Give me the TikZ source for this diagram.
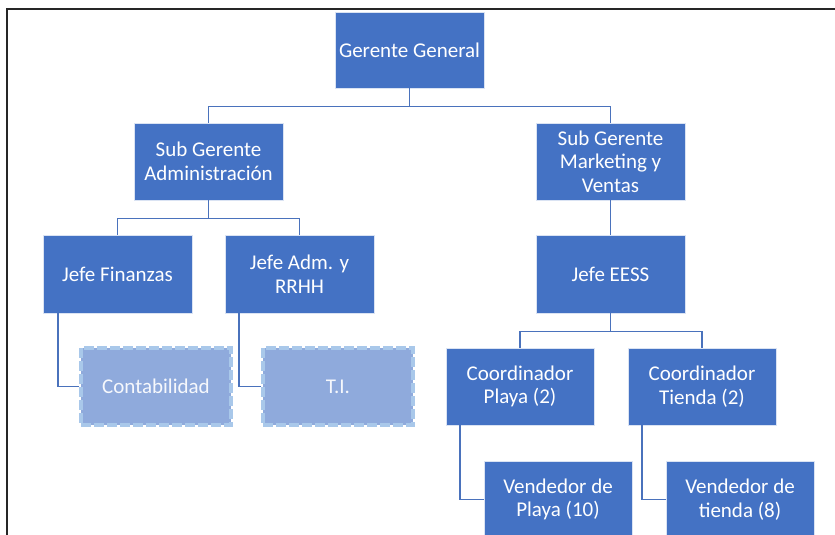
\documentclass[tikz,border=0pt]{standalone}
\usepackage{fontspec}
\setmainfont{Carlito}
\usetikzlibrary{calc}
\definecolor{boxblue}{HTML}{4472C4}
\definecolor{lightbox}{HTML}{8FAADC}
\definecolor{dashblue}{HTML}{A9C8EA}
\definecolor{linkblue}{HTML}{4A72BC}
\begin{document}
\begin{tikzpicture}[x=1pt,y=-1pt,
  orgbox/.style={draw=white!80!boxblue, line width=0.6pt, fill=boxblue, text=white,
    minimum width=149pt, minimum height=77pt, inner sep=1pt, align=center,
    font=\fontsize{21}{23.5}\selectfont},
  assist/.style={draw=dashblue, line width=4pt, dash pattern=on 10pt off 3pt, fill=lightbox,
    text=white!92!lightbox, minimum width=150pt, minimum height=77pt, align=center,
    font=\fontsize{21}{23.5}\selectfont},
  link/.style={draw=linkblue, line width=1.6pt}]
\useasboundingbox (0,0) rectangle (835,535);
\clip (0,0) rectangle (835,535);
\fill[white] (0,0) rectangle (835,535);
\draw[line width=2pt, black!85] (7,535) -- (7,9) -- (836,9);

\node[orgbox, minimum height=76pt] (gg) at (409.5,50) {Gerente General};
\node[orgbox] (sga) at (208.5,161.5) {Sub Gerente\\Administración};
\node[orgbox] (sgm) at (610.5,161.5) {Sub Gerente\\Marketing y\\Ventas};
\node[orgbox, minimum height=78pt] (jf) at (117.5,274) {Jefe Finanzas};
\node[orgbox, minimum height=78pt] (ja) at (299.5,274) {Jefe Adm. y\\RRHH};
\node[orgbox, minimum height=78pt] (je) at (610.5,274) {Jefe EESS};
\node[assist] (cont) at (156,386.5) {Contabilidad};
\node[assist] (ti) at (338,386.5) {T.I.};
\node[orgbox, minimum width=148pt] (cp) at (520,386.5) {Coordinador\\Playa (2)};
\node[orgbox, minimum width=148pt] (ct) at (702,386.5) {Coordinador\\Tienda (2)};
\node[orgbox, minimum width=148pt] (vp) at (558,499.5) {Vendedor de\\Playa (10)};
\node[orgbox, minimum width=148pt] (vt) at (740,499.5) {Vendedor de\\tienda (8)};

\coordinate (g1) at ($(gg.south)+(0,18)$);
\coordinate (s1) at ($(sga.south)+(0,18)$);
\coordinate (e1) at ($(je.south)+(0,18)$);
\coordinate (jfx) at ($(jf.south west)+(15,0)$);
\coordinate (jax) at ($(ja.south west)+(14,0)$);
\coordinate (cpx) at ($(cp.south west)+(14,0)$);
\coordinate (ctx) at ($(ct.south west)+(14,0)$);

\draw[link] (gg.south) -- (g1);
\draw[link] (sga.north) |- (g1) -| (sgm.north);
\draw[link] (sga.south) -- (s1);
\draw[link] (jf.north) |- (s1) -| (ja.north);
\draw[link] (sgm.south) -- (je.north);
\draw[link] (je.south) -- (e1);
\draw[link] (cp.north) |- (e1) -| (ct.north);
\draw[link] (jfx) |- (cont.west);
\draw[link] (jax) |- (ti.west);
\draw[link] (cpx) |- (vp.west);
\draw[link] (ctx) |- (vt.west);
\end{tikzpicture}
\end{document}
